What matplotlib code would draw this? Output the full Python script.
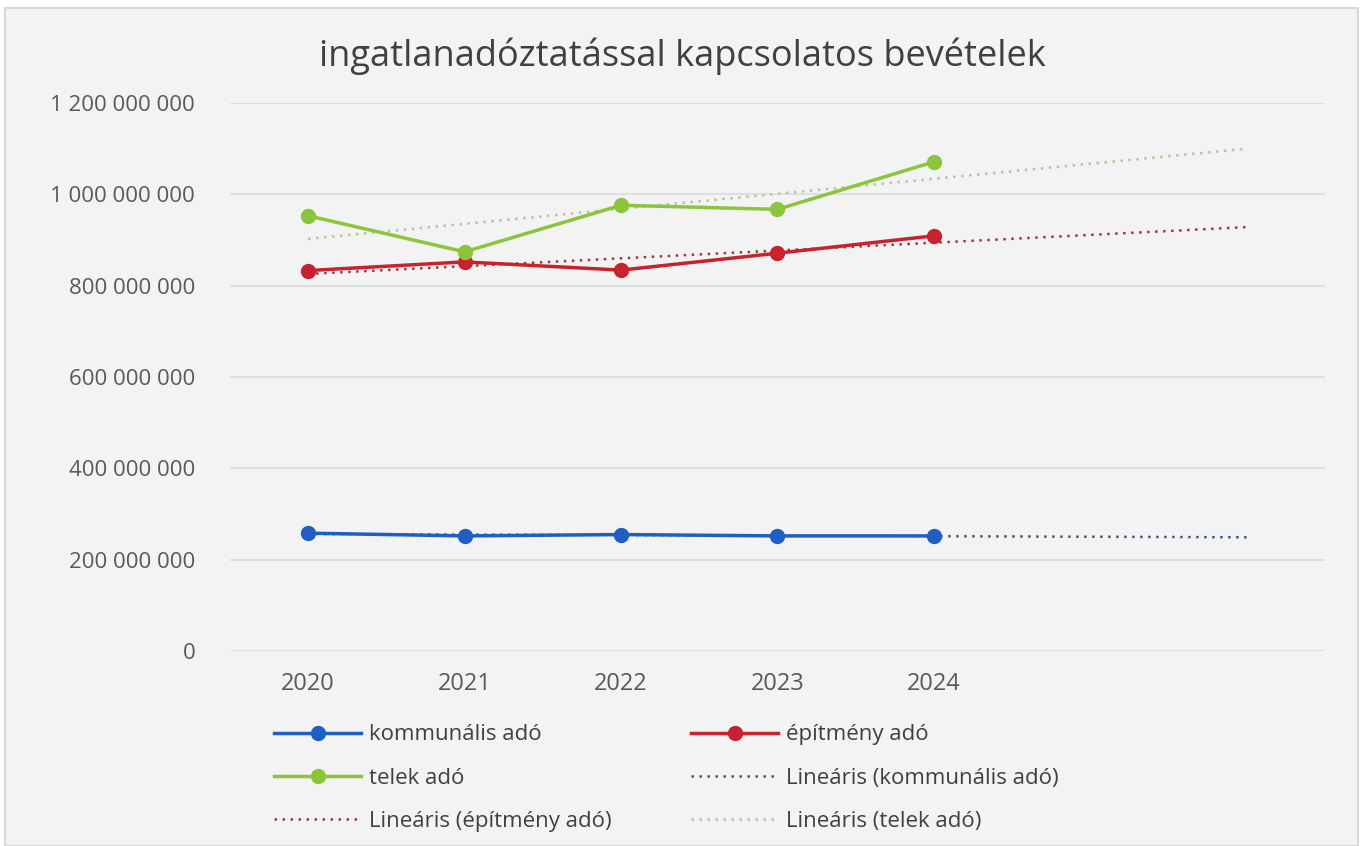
import numpy as np
import matplotlib
matplotlib.use("Agg")
from matplotlib import pyplot as plt
from matplotlib.patches import Rectangle
from matplotlib.ticker import FuncFormatter

plt.rcParams['font.family'] = ['Open Sans', 'DejaVu Sans']

years = ["2020", "2021", "2022", "2023", "2024"]
kommunalis = [258e6, 252e6, 255e6, 252e6, 252e6]
epitmeny = [833e6, 852e6, 834e6, 871e6, 909e6]
telek = [953e6, 874e6, 976e6, 967e6, 1071e6]
forecast_periods = 2

series = [
    ("kommunális adó", kommunalis, "#1f5fc4", "#3a5a80"),
    ("építmény adó", epitmeny, "#c8222c", "#9c3a3a"),
    ("telek adó", telek, "#8cc43c", "#b8c49a"),
]

fig = plt.figure(figsize=(13.63, 8.46), dpi=100, facecolor="white")
fig.patches.append(Rectangle((0.004, 0), 0.992, 0.99, transform=fig.transFigure,
                             facecolor="#f3f3f3", edgecolor="#d9d9d9", lw=1.5, zorder=-1))
ax = fig.add_axes([0.1687, 0.2305, 0.8033, 0.6478])
ax.set_facecolor("#f3f3f3")

x = np.arange(len(years))
x_trend = np.arange(len(years) + forecast_periods)

main_lines = []
trend_lines = []
for name, vals, col, tcol in series:
    ln, = ax.plot(x, vals, color=col, lw=2.5, marker="o", ms=10, zorder=3, label=name)
    coef = np.polyfit(x, vals, 1)
    tl, = ax.plot(x_trend, np.polyval(coef, x_trend), color=tcol, lw=1.8,
                  linestyle=(0, (1, 2.2)), zorder=2, label=f"Lineáris ({name})")
    main_lines.append(ln)
    trend_lines.append(tl)

ax.set_xlim(-0.5, len(x_trend) - 0.5)
ax.set_ylim(0, 1.2e9)
ax.set_yticks(np.arange(0, 1.2e9 + 1, 2e8))
ax.yaxis.set_major_formatter(FuncFormatter(lambda v, p: f"{int(v):,}".replace(",", " ")))
ax.set_xticks(x)
ax.set_xticklabels(years)
ax.grid(axis="y", color="#dcdcdc", lw=1.2)
ax.set_axisbelow(True)
for s in ax.spines.values():
    s.set_visible(False)
ax.tick_params(length=0, colors="#595959")
ax.tick_params(axis="y", pad=25, labelsize=16)
ax.tick_params(axis="x", pad=15, labelsize=17)

fig.text(0.501, 0.934, "ingatlanadóztatással kapcsolatos bevételek", ha="center", va="center",
         fontsize=26, color="#404040")

handles = [main_lines[0], main_lines[2], trend_lines[1], main_lines[1], trend_lines[0], trend_lines[2]]
leg = fig.legend(handles=handles, labels=[h.get_label() for h in handles], ncol=2,
                 loc="upper left", bbox_to_anchor=(0.193, 0.157), frameon=False,
                 fontsize=16, handlelength=3.9, handletextpad=0.36, columnspacing=3.6,
                 labelspacing=1.0, borderpad=0)
for t in leg.get_texts():
    t.set_color("#404040")

fig.savefig("out.png", dpi=100, facecolor="white")
